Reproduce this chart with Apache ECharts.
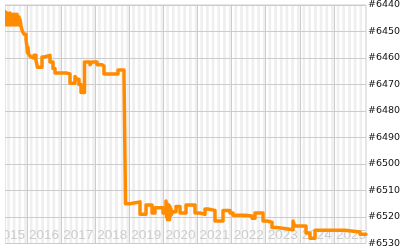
<!DOCTYPE html>
<html><head><meta charset="utf-8">
<script src="https://cdn.jsdelivr.net/npm/echarts@6/dist/echarts.min.js"></script>
<style>html,body{margin:0;padding:0;background:#fff}#c{width:400px;height:250px}</style>
</head><body><div id="c"></div>
<script>
// dates as decimal years, ranks
const dates = [2015.355,2015.370,2015.384,2015.399,2015.413,2015.428,2015.443,2015.457,2015.472,2015.487,2015.501,2015.516,2015.531,2015.545,2015.560,2015.575,
  2015.589,2015.604,2015.619,2015.633,2015.648,2015.663,2015.677,2015.692,2015.707,2015.721,2015.736,2015.751,2015.765,2015.780,2015.795,
  2015.824,2015.868,2015.912,2015.971,2016.000,2016.015,2016.029,2016.044,2016.088,2016.103,2016.147,2016.205,2016.264,2016.308,2016.440,2016.499,2016.674,2016.762,2016.821,
  2017.173,2017.261,2017.408,2017.466,2017.525,2017.584,2017.686,2017.848,2017.906,2018.053,2018.199,2018.258,2018.669,2018.845,2018.889,
  2019.021,2019.314,2019.490,2019.666,2019.754,2019.988,2020.076,2020.091,2020.106,2020.120,2020.135,2020.150,2020.164,2020.179,2020.194,2020.208,2020.223,2020.238,2020.252,2020.370,2020.487,2020.663,2020.927,
  2021.073,2021.220,2021.308,2021.513,2021.748,2021.953,2022.041,2022.393,2022.598,2022.686,2022.921,2023.038,2023.185,2023.331,2023.654,2023.801,2023.845,
  2024.182,2024.299,2024.446,2025.326,2025.765,2025.941];
const ranks = [6442.5,6447,6443.5,6447.5,6443,6447,6443.5,6447.5,6443.5,6447,6443,6447.5,6443.5,6447.5,6444,6447,
  6443.5,6447.5,6444,6447,6443.5,6447.5,6444,6447,6443.5,6447.5,6444.5,6447,6444.5,6447.5,6445.5,
  6448,6450,6451,6453,6455.5,6458,6456,6458.5,6458,6459.5,6460,6459,6461,6463.5,6459.6,6459,6461.5,6464,6465.7,
  6466,6469.5,6467,6468,6470,6473,6461.5,6462.5,6461.5,6462.5,6463,6466,6464.5,6467,6515,
  6514.3,6519,6515.5,6518.5,6516.5,6518.5,6514,6520,6515,6521,6516,6520.5,6515.5,6521,6516,6519.5,6517,6519,6518,6516,6518.5,6515.5,6518.5,
  6519,6517,6517.5,6521.5,6517.5,6518.5,6519.3,6519.6,6520.5,6518.5,6521.5,6522,6524,6524.5,6524.8,6521.5,6523.4,
  6526,6528,6525,6525.7,6526.5,6526.5];
const years = [2015,2016,2017,2018,2019,2020,2021,2022,2023,2024,2025];
const yTicks = {min: 6440, max: 6530, step: 10};

// layout
const leftPx = 5, rightPx = 366, viewStart = 2015.355, viewEnd = 2025.941;
const xMin = viewStart * 12, xMax = viewEnd * 12;

const points = dates.map((d, i) => [d * 12, ranks[i]]);
const yearLines = years.map(y => y * 12).filter(v => v > xMin && v < xMax);
const yearLabelPos = years.map(y => y * 12 + 6);
const monthLines = [];
for (let m = Math.ceil(xMin); m <= Math.floor(xMax); m++) monthLines.push(m);

const chart = echarts.init(document.getElementById('c'), null, {renderer: 'canvas'});
chart.setOption({
  animation: false,
  grid: {left: leftPx, right: 400 - rightPx, top: 5, bottom: 6.5, containLabel: false, outerBoundsMode: 'none',
    show: true, borderColor: '#cccccc', borderWidth: 1, backgroundColor: 'transparent', z: 1},
  xAxis: [{
    type: 'value', min: xMin, max: xMax, z: 0,
    axisLine: {show: false}, axisTick: {show: false, customValues: monthLines}, axisLabel: {show: false},
    splitLine: {show: false},
    splitArea: {show: true, areaStyle: {color: ['#efefef', '#ffffff']}}
  }, {
    type: 'value', min: xMin, max: xMax, z: 1, position: 'bottom',
    axisLine: {show: false}, axisTick: {show: false, customValues: yearLines},
    splitLine: {show: true, lineStyle: {color: '#cccccc', width: 1}},
    axisLabel: {inside: true, customValues: yearLabelPos, align: 'center', verticalAlign: 'bottom', margin: 1,
      color: '#cccccc', fontFamily: '"Liberation Sans", Arial, sans-serif', fontSize: 13.5,
      formatter: v => String(Math.floor(v / 12)),
      showMinLabel: true, showMaxLabel: true, hideOverlap: false}
  }],
  yAxis: {
    type: 'value', inverse: true, min: yTicks.min, max: yTicks.max, interval: yTicks.step, position: 'right', z: 1,
    axisLine: {show: false}, axisTick: {show: false},
    splitLine: {show: true, lineStyle: {color: '#cccccc', width: 1}},
    axisLabel: {margin: 2, color: '#111', fontFamily: '"DejaVu Sans", sans-serif', fontSize: 9.5, formatter: v => '#' + v}
  },
  graphic: [
    {type: 'rect', shape: {x: 0, y: 0, width: leftPx, height: 250}, style: {fill: '#ffffff'}, z: 100}
  ],
  series: [{
    type: 'line', xAxisIndex: 1, data: points, step: 'end', showSymbol: false, symbol: 'none',
    lineStyle: {color: '#ff8c00', width: 3.5, cap: 'round', join: 'round'}, z: 5
  }]
});
</script></body></html>
